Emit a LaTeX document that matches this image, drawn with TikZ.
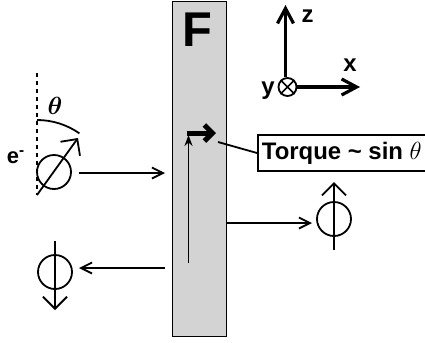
\documentclass[tikz,border=0pt]{standalone}
\usepackage{fontspec}
\usepackage{bm}
\setmainfont{Liberation Sans}
\usetikzlibrary{arrows.meta}
\definecolor{filmgray}{RGB}{211,211,211}
\begin{document}
\begin{tikzpicture}[x=1bp,y=-1bp,line width=1.8bp,
  harrow/.style={-{Straight Barb[length=11bp,width=11bp]}},
  spinarrow/.style={-{Straight Barb[length=12bp,width=24bp]}},
  spin/.style={circle,draw,line width=1.8bp,minimum size=34bp,inner sep=0pt},
  axis/.style={line width=3.2bp,-{Straight Barb[length=15bp,width=16bp]}},
  lbl/.style={font=\bfseries\fontsize{24}{24}\selectfont,inner sep=0pt}]
\useasboundingbox (0,0) rectangle (425,343);
% ferromagnet film
\node[draw,fill=filmgray,line width=0.9bp,minimum width=54bp,minimum height=335bp,anchor=north west,inner sep=0pt] (F) at (172,1) {};
\node[font=\bfseries\fontsize{49}{49}\selectfont,inner sep=0pt] (Flbl) at (197.5,29.5) {F};
% axes
\node[circle,draw,line width=1.8bp,minimum size=18bp,inner sep=0pt] (Y) at (287.5,87) {};
\draw[line width=1.6bp] (Y.north west) -- (Y.south east) (Y.north east) -- (Y.south west);
\coordinate (zt) at (285.5,5);
\coordinate (xt) at (360,87);
\draw[axis] (Y.north -| zt) -- (zt);
\draw[axis] (Y.east) -- (xt);
\node[lbl] (zl) at (307.5,16) {z};
\node[lbl] (xl) at (350,65) {x};
\node[lbl] (yl) at (268,91) {y};
% incoming electron
\coordinate (O) at (37,195);
\coordinate (dtop) at (37,73);
\draw[line width=2.4bp,dash pattern=on 4bp off 4bp] (dtop) -- (O);
\coordinate (stip) at (78,138);
\node[spin] (s1) at (54,172) {};
\draw[spinarrow] (O) -- (stip);
\coordinate (arcs) at (37,120);
\draw (arcs) arc (-90:-55:74);
\node[font=\fontsize{27}{27}\selectfont,inner sep=0pt] (th) at (55,106) {$\bm{\theta}$};
\node[font=\bfseries\fontsize{22}{22}\selectfont,inner sep=0pt,anchor=base west] (el) at (6,163) {e\textsuperscript{-}};
\coordinate (a1s) at (79,173);
\coordinate (a1e) at (165,173);
\draw[harrow] (a1s) -- (a1e);
% inside the film
\coordinate (mb) at (188.5,263);
\coordinate (mt) at (188.5,135);
\draw[-{Stealth[length=11bp,width=8bp]}] (mb) -- (mt);
\coordinate (tqs) at (186.5,133);
\coordinate (tqe) at (216,133);
\draw[line width=5bp,-{Straight Barb[length=8bp,width=16bp]}] (tqs) -- (tqe);
% torque label
\node[draw,line width=1.6bp,anchor=west,minimum height=36bp,minimum width=168bp,inner sep=0pt,font=\bfseries\fontsize{24}{24}\selectfont] (T) at (257,153) {Torque \textasciitilde{} sin $\theta$};
\coordinate (tqp) at (218,142);
\draw (tqp) -- (T.west);
% transmitted electron
\node[spin] (s2) at (334,219) {};
\coordinate (s2b) at (334,250);
\coordinate (s2t) at (334,182);
\draw[spinarrow] (s2b) -- (s2t);
\coordinate (a2s) at (226,223);
\coordinate (a2e) at (312,223);
\draw[harrow] (a2s) -- (a2e);
% reflected electron
\node[spin] (s3) at (55,272) {};
\coordinate (s3t) at (55,241);
\coordinate (s3b) at (55,310);
\draw[spinarrow] (s3t) -- (s3b);
\coordinate (a3s) at (165,268);
\coordinate (a3e) at (79,268);
\draw[harrow] (a3s) -- (a3e);
\end{tikzpicture}
\end{document}
